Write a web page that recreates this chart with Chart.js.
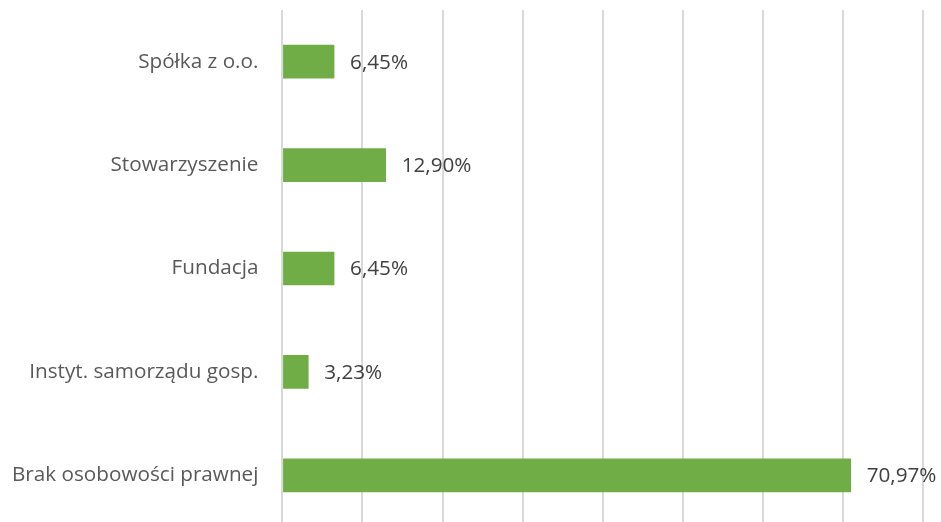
<!DOCTYPE html>
<html>
<head>
<meta charset="utf-8">
<script src="https://cdn.jsdelivr.net/npm/chart.js@4"></script>
<style>
  html, body { margin: 0; padding: 0; background: #fff; overflow: hidden; }
  #wrap { width: 941px; height: 530px; }
</style>
</head>
<body>
<div id="wrap"><canvas id="myChart"></canvas></div>
<script>
const categories = ["Spółka z o.o.", "Stowarzyszenie", "Fundacja", "Instyt. samorządu gosp.", "Brak osobowości prawnej"];
const shares = [6.45, 12.9, 6.45, 3.23, 70.97];
const shareLabels = ["6,45%", "12,90%", "6,45%", "3,23%", "70,97%"];

// draws the value text right of each bar
const valueLabels = {
  id: "valueLabels",
  afterDatasetsDraw(chart) {
    const ctx = chart.ctx;
    const meta = chart.getDatasetMeta(0);
    ctx.save();
    ctx.font = "20.7px 'Open Sans'";
    ctx.fillStyle = "#404040";
    ctx.textBaseline = "middle";
    meta.data.forEach((bar, i) => {
      ctx.fillText(shareLabels[i], bar.x + 16, bar.y + 1);
    });
    ctx.restore();
  },
};

const ctx = document.getElementById("myChart");

new Chart(ctx, {
  type: "bar",
  data: {
    labels: categories,
    datasets: [
      {
        data: shares,
        backgroundColor: "#70ad47",
        barThickness: 33,
      },
    ],
  },
  options: {
    indexAxis: "y",
    responsive: true,
    maintainAspectRatio: false,
    animation: false,
    layout: { padding: { top: 10, right: 18, left: 8, bottom: 3 } },
    plugins: { legend: { display: false }, tooltip: { enabled: false } },
    scales: {
      x: {
        min: 0,
        max: 80,
        ticks: { display: false, stepSize: 10 },
        grid: { color: "#d9d9d9", lineWidth: 2, drawTicks: false },
        border: { display: false },
      },
      y: {
        ticks: { color: "#595959", font: { family: "'Open Sans'", size: 20.7 }, padding: 24 },
        grid: { display: false, drawTicks: false },
        border: { display: false },
        afterFit(scale) {
          // no extra room above/below for the tick labels
          scale.paddingTop = 0;
          scale.paddingBottom = 0;
          scale.width -= 20;
        },
      },
    },
  },
  plugins: [valueLabels],
});
</script>
</body>
</html>
